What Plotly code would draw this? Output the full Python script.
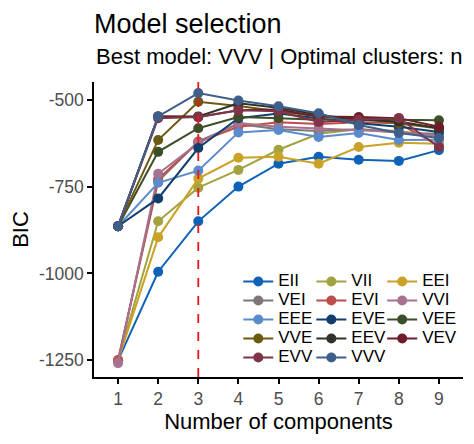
import plotly.graph_objects as go

components = [1, 2, 3, 4, 5, 6, 7, 8, 9]
models = ["EII", "VII", "EEI", "VEI", "EVI", "VVI", "EEE",
          "EVE", "VEE", "VVE", "EEV", "VEV", "EVV", "VVV"]

EII = [-1250, -995, -850, -750, -684, -664, -673, -676, -645]
VII = [-1250, -850, -753, -702, -644, -598, -585, -590, -605]
EEI = [-1250, -896, -727, -667, -664, -684, -636, -624, -627]
VEI = [-1250, -735, -620, -570, -585, -590, -585, -595, -598]
EVI = [-1250, -728, -622, -578, -565, -570, -565, -568, -633]
VVI = [-1258, -713, -625, -567, -578, -583, -588, -593, -603]
EEE = [-864, -739, -704, -594, -587, -607, -596, -616, -615]
EVE = [-864, -784, -639, -553, -540, -553, -568, -578, -593]
VEE = [-864, -650, -582, -550, -553, -558, -553, -558, -559]
VVE = [-864, -616, -506, -518, -533, -548, -553, -568, -583]
EEV = [-864, -548, -548, -510, -523, -543, -558, -563, -582]
VEV = [-864, -548, -550, -530, -528, -548, -550, -553, -578]
EVV = [-864, -553, -550, -530, -533, -564, -558, -553, -636]
VVV = [-864, -548, -481, -502, -519, -539, -573, -596, -610]

bic = [EII, VII, EEI, VEI, EVI, VVI, EEE, EVE, VEE, VVE, EEV, VEV, EVV, VVV]

colors = ["#0F62B5", "#A3A23E", "#C9A227", "#7D7674", "#BF4D4B", "#A7728F",
          "#5B8BCB", "#123E6E", "#3D4F28", "#6D5A12", "#2F3329", "#6D1D2A",
          "#7F3447", "#3F5F8A"]

y_ticks = [-1250, -1000, -750, -500]

best_model = "VVV"
best_k = 3

font = "Liberation Sans, Arial, sans-serif"

fig = go.Figure()

# legend is 3 columns filled row by row
legends = ["legend", "legend2", "legend3"]
for i in range(len(models)):
    fig.add_trace(go.Scatter(
        x=components, y=bic[i], mode="lines+markers",
        name="<span style='font-size:17px'>" + models[i] + "</span>",
        line=dict(color=colors[i], width=2),
        marker=dict(color=colors[i], size=10),
        legend=legends[i % 3],
    ))

fig.add_vline(x=best_k, line=dict(color="#E8151B", width=1.8, dash="dash"))

fig.add_annotation(
    text="Best model: " + best_model + " | Optimal clusters: n = " + str(best_k),
    xref="paper", yref="paper", x=0, y=1.037, xanchor="left", yanchor="bottom",
    showarrow=False, font=dict(size=22, color="black"),
)

leg = dict(font=dict(family=font, size=12, color="black"), bgcolor="rgba(0,0,0,0)",
           itemwidth=30, tracegroupgap=0, yanchor="top", xanchor="left", y=0.373)

# the page body has an 8px margin, so the figure is drawn 8px smaller
fig.update_layout(
    width=466, height=436,
    margin=dict(l=86, r=11, t=74, b=67),
    plot_bgcolor="white", paper_bgcolor="white",
    font=dict(family=font, color="black"),
    title=dict(
        text="Model selection",
        font=dict(size=27, color="black"),
        x=0, xref="paper", xanchor="left",
        y=0.985, yref="container", yanchor="top",
    ),
    legend=dict(leg, x=0.391),
    legend2=dict(leg, x=0.589),
    legend3=dict(leg, x=0.781),
    showlegend=True,
)

fig.update_xaxes(
    range=[0.4, 9.6], tickvals=components, showgrid=False, zeroline=False,
    showline=True, linecolor="black", linewidth=1.5, automargin=False,
    ticks="outside", ticklen=5, tickwidth=1.5, tickcolor="black",
    tickfont=dict(size=17.5, color="#4D4D4D"),
    title=dict(text="Number of components", font=dict(size=22), standoff=4),
)
fig.update_yaxes(
    range=[-1298, -449], tickvals=y_ticks, ticktext=[str(v) for v in y_ticks],
    showgrid=False, zeroline=False,
    showline=True, linecolor="black", linewidth=1.5, automargin=False,
    ticks="outside", ticklen=5, tickwidth=1.5, tickcolor="black",
    tickfont=dict(size=17.5, color="#4D4D4D"),
    title=dict(text="BIC", font=dict(size=22), standoff=6),
)

fig.write_html("out.html")
